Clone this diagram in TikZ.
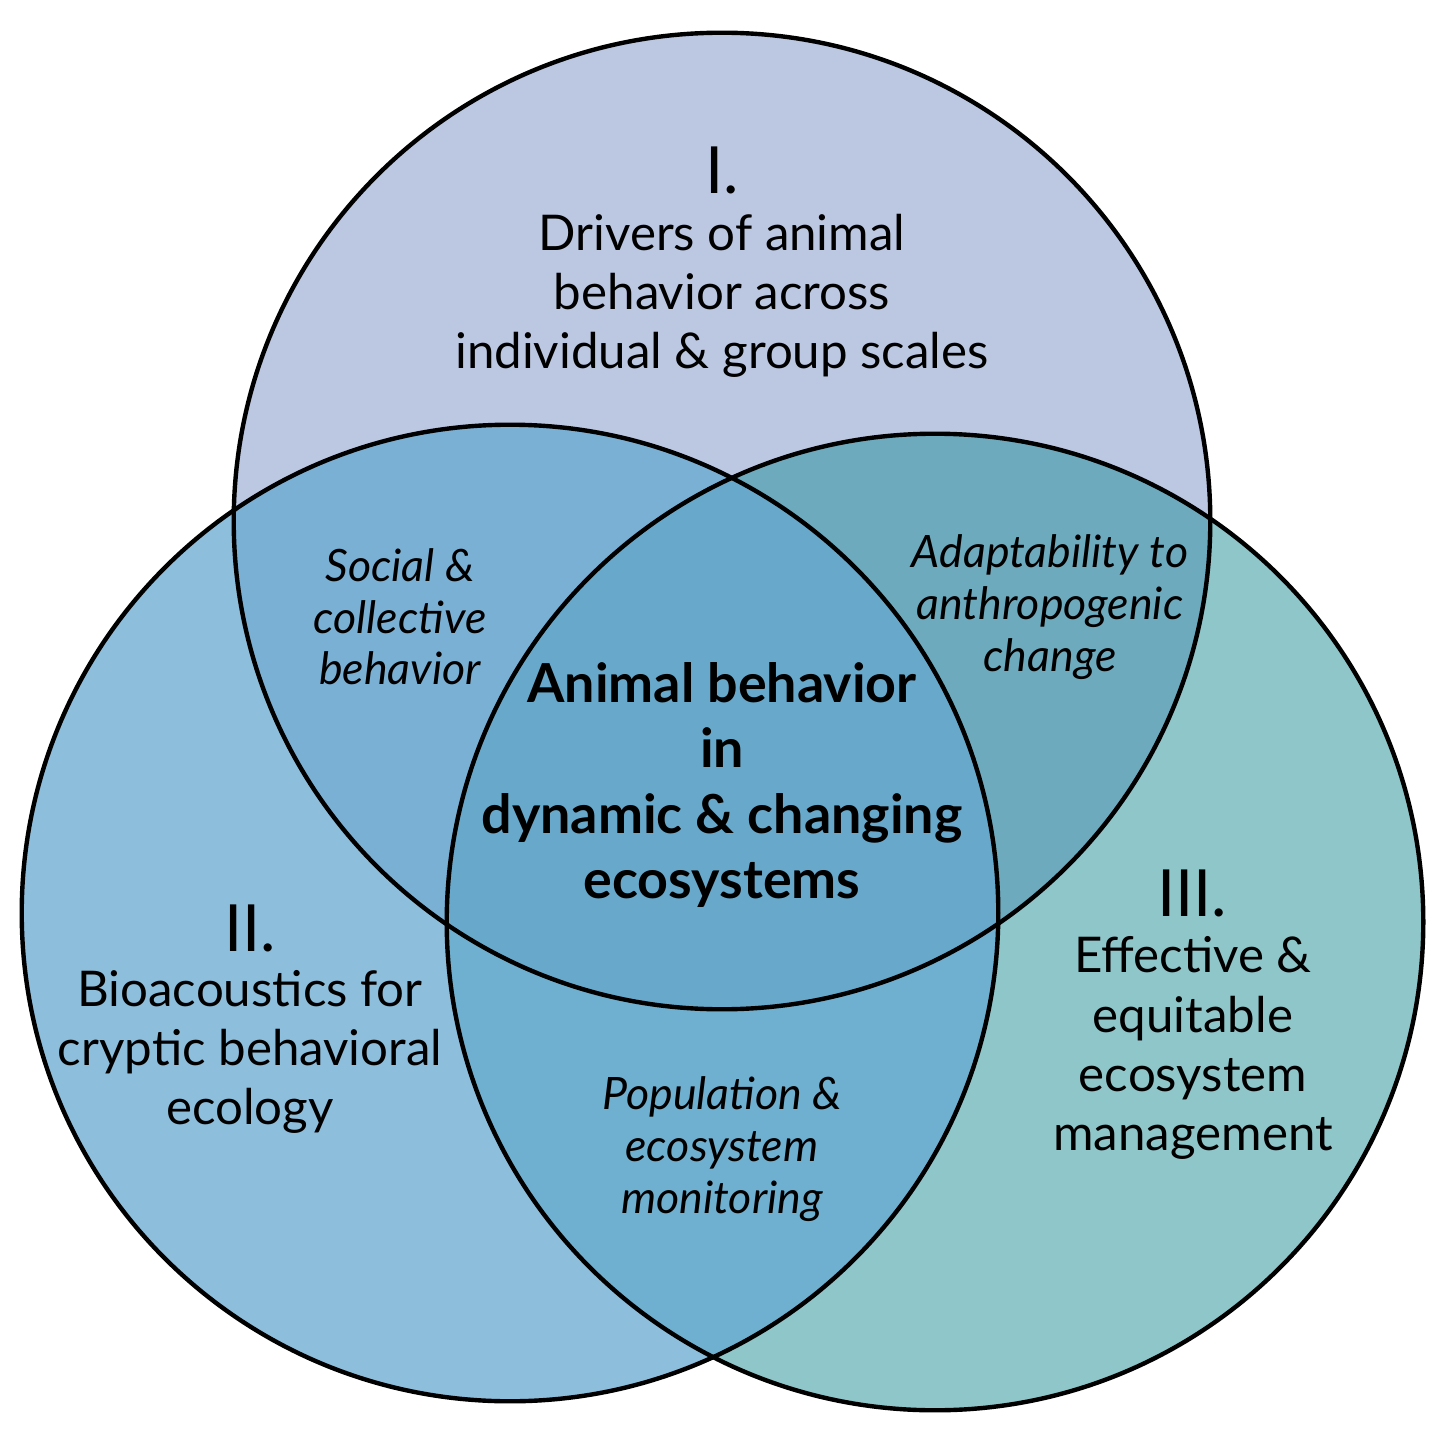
\documentclass[tikz,border=0pt]{standalone}
\usepackage{fontspec}
\setmainfont{Lato}
\definecolor{fillI}{HTML}{BCC8E2}
\definecolor{fillII}{HTML}{8DBEDC}
\definecolor{fillIII}{HTML}{8EC6CA}
\definecolor{fillItwo}{HTML}{7BB0D5}
\definecolor{fillIthree}{HTML}{6DAABE}
\definecolor{filltwothree}{HTML}{6FAFCF}
\definecolor{fillcore}{HTML}{68A9CB}
\usetikzlibrary{positioning}

\begin{document}
\begin{tikzpicture}[
  x=0.01cm, y=-0.01cm,
  ring/.style={draw=black, line width=1.25pt},
  numeral/.style={font=\fontsize{18.5}{20}\selectfont},
  theme/.style={font=\fontsize{14}{16.8}\selectfont, align=center},
  overlap/.style={font=\itshape\fontsize{12.7}{14.7}\selectfont, align=center},
  core/.style={font=\bfseries\fontsize{15.3}{18.5}\selectfont, align=center}
]
  \useasboundingbox (0,0) rectangle (1440,1440);
  \coordinate (cI) at (722,521);
  \coordinate (cII) at (510,913);
  \coordinate (cIII) at (935,922);

  % Circle fills
  \fill[fillI] (cI) circle[radius=4.88cm];
  \fill[fillII] (cII) circle[radius=4.88cm];
  \fill[fillIII] (cIII) circle[radius=4.88cm];

  % Pairwise overlaps
  \begin{scope}
    \clip (cI) circle[radius=4.88cm];
    \fill[fillItwo] (cII) circle[radius=4.88cm];
    \fill[fillIthree] (cIII) circle[radius=4.88cm];
  \end{scope}
  \begin{scope}
    \clip (cII) circle[radius=4.88cm];
    \fill[filltwothree] (cIII) circle[radius=4.88cm];
  \end{scope}

  % Centre overlap
  \begin{scope}
    \clip (cI) circle[radius=4.88cm];
    \clip (cII) circle[radius=4.88cm];
    \fill[fillcore] (cIII) circle[radius=4.88cm];
  \end{scope}

  % Outlines
  \draw[ring] (cI) circle[radius=4.88cm];
  \draw[ring] (cII) circle[radius=4.88cm];
  \draw[ring] (cIII) circle[radius=4.88cm];

  % Theme I
  \node[numeral] (numI) at (722,170) {I.};
  \node[theme] (drivers) at (722,296) {Drivers of animal\\behavior across\\individual \& group scales};

  % Theme II
  \node[numeral] (numII) at (250,928) {II.};
  \node[theme] (bioacoustics) at (250,1052) {Bioacoustics for\\cryptic behavioral\\ecology};

  % Theme III
  \node[numeral] (numIII) at (1192,893) {III.};
  \node[theme] (management) at (1193,1048) {Effective \&\\equitable\\ecosystem\\management};

  % Overlap labels
  \node[overlap] (social) at (400,617) {Social \&\\collective\\behavior};
  \node[overlap] (adapt) at (1050,607) {Adaptability to\\anthropogenic\\change};
  \node[overlap] (monitoring) at (722,1149) {Population \&\\ecosystem\\monitoring};

  % Centre label
  \node[core] (centre) at (722,785) {Animal behavior\\in\\dynamic \& changing\\ecosystems};
\end{tikzpicture}
\end{document}
